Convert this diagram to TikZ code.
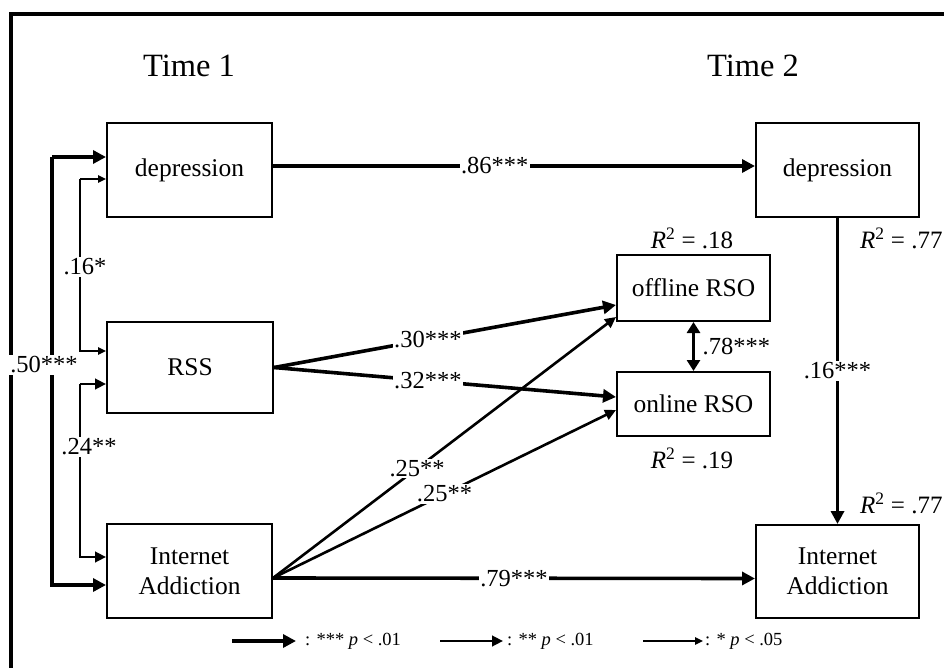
\documentclass[tikz,border=0pt]{standalone}
\usepackage{fontspec}
\setmainfont{Liberation Serif}
\usetikzlibrary{arrows.meta}

\tikzset{
  box/.style={draw, line width=2pt, inner sep=0pt, align=center,
              font=\fontsize{25.5}{30}\selectfont},
  lbl/.style={fill=white, inner sep=1.5pt, font=\fontsize{24.5}{27}\selectfont},
  rsq/.style={inner sep=0pt, font=\fontsize{25}{28}\selectfont},
  title/.style={inner sep=0pt, font=\fontsize{32.5}{38}\selectfont},
  legtext/.style={inner sep=0pt, anchor=west, font=\fontsize{18.5}{21}\selectfont},
  pthree/.style={line width=3.6pt, -{Triangle[length=13pt,width=13pt]}},
  ptwo/.style={line width=2.6pt, -{Triangle[length=11pt,width=10.5pt]}},
  pone/.style={line width=1.5pt, -{Triangle[length=8pt,width=7.5pt]}},
}

\newcommand{\rsqtext}[1]{\textit{R}\textsuperscript{2} = #1}

\begin{document}
\begin{tikzpicture}[x=1pt,y=-1pt]
  \useasboundingbox (0,0) rectangle (944,668);
  \fill[white] (0,0) rectangle (944,668);

  % outer frame
  \draw[line width=3.5pt] (960,14) -- (11,14) -- (11,690);

  % column headings
  \node[title] (t1) at (189,66) {Time 1};
  \node[title] (t2) at (753,66) {Time 2};

  % variables at Time 1
  \node[box, minimum width=165pt, minimum height=94pt] (dep1) at (189.5,170) {depression};
  \node[box, minimum width=166pt, minimum height=91pt] (rss) at (190,367.5) {RSS};
  \node[box, minimum width=165pt, minimum height=94pt] (ia1) at (189.5,571) {Internet\\Addiction};

  % variables at Time 2
  \node[box, minimum width=163pt, minimum height=94pt] (dep2) at (837.5,170) {depression};
  \node[box, minimum width=163pt, minimum height=93pt] (ia2) at (837.5,571.5) {Internet\\Addiction};

  % mediators
  \node[box, minimum width=153pt, minimum height=66pt] (off) at (693.5,288) {offline RSO};
  \node[box, minimum width=153pt, minimum height=64pt] (on) at (693.5,404) {online RSO};

  % explained variance
  \node[rsq] (r18) at (692,238) {\rsqtext{.18}};
  \node[rsq] (r19) at (692,458) {\rsqtext{.19}};
  \node[rsq, anchor=west] (r77a) at (860,238) {\rsqtext{.77}};
  \node[rsq, anchor=west] (r77b) at (860,503) {\rsqtext{.77}};

  % stability paths
  \draw[pthree] ([yshift=4pt]dep1.east) -- node[lbl, pos=0.46] {.86***} ([yshift=4pt]dep2.west);
  \draw[pthree] ([yshift=-7pt]ia1.east) -- node[lbl, pos=0.5] {.79***} ([yshift=-7pt]ia2.west);

  % cross-lagged path
  \draw[pthree] (dep2.south) -- node[lbl, pos=0.5] {.16***} (ia2.north);

  % paths to the mediators
  \draw[pthree] (rss.east) -- node[lbl, pos=0.45] {.30***} ([yshift=-17pt]off.west);
  \draw[pthree] (rss.east) -- node[lbl, pos=0.45] {.32***} ([yshift=7pt]on.west);
  \draw[ptwo] ([yshift=-7pt]ia1.east) -- node[lbl, pos=0.42] {.25**} ([yshift=-29pt]off.west);
  \draw[ptwo] ([yshift=-7pt]ia1.east) -- node[lbl, pos=0.5] {.25**} ([yshift=-6pt]on.west);

  % residual correlation of the mediators
  \draw[line width=3.2pt, {Triangle[length=11pt,width=13pt]}-{Triangle[length=11pt,width=13pt]}]
    (off.south) -- (on.north);
  \node[lbl, fill=none, anchor=west] (r78) at (701,347) {.78***};

  % correlations at Time 1
  \coordinate (c50a) at (52,157);
  \coordinate (c50b) at (52,585);
  \coordinate (c16a) at (80,179);
  \coordinate (c16b) at (80,351);
  \coordinate (c24a) at (80,384);
  \coordinate (c24b) at (80,557);
  \draw[pthree] (c50a) -- (c50b) -- ([yshift=-14pt]ia1.west);
  \draw[pthree] (c50a) -- ([yshift=13pt]dep1.west);
  \node[lbl] (l50) at (44,365) {.50***};
  \draw[pone] (c16a) -- (c16b) -- ([yshift=16.5pt]rss.west);
  \draw[pone] (c16a) -- ([yshift=-9pt]dep1.west);
  \node[lbl] (l16) at (85,267) {.16*};
  \draw[ptwo] (c24a) -- (c24b) -- ([yshift=14pt]ia1.west);
  \draw[ptwo] (c24a) -- ([yshift=-16.5pt]rss.west);
  \node[lbl] (l24) at (89,447) {.24**};

  % legend
  \coordinate (k1a) at (232,641); \coordinate (k1b) at (296,641);
  \coordinate (k2a) at (440,641); \coordinate (k2b) at (503,641);
  \coordinate (k3a) at (643,641); \coordinate (k3b) at (703,641);
  \draw[pthree] (k1a) -- (k1b);
  \draw[ptwo] (k2a) -- (k2b);
  \draw[pone] (k3a) -- (k3b);
  \node[legtext] (k1t) at (305,641) {: *** \textit{p} < .01};
  \node[legtext] (k2t) at (507,641) {: ** \textit{p} < .01};
  \node[legtext] (k3t) at (705,641) {: * \textit{p} < .05};
\end{tikzpicture}
\end{document}
